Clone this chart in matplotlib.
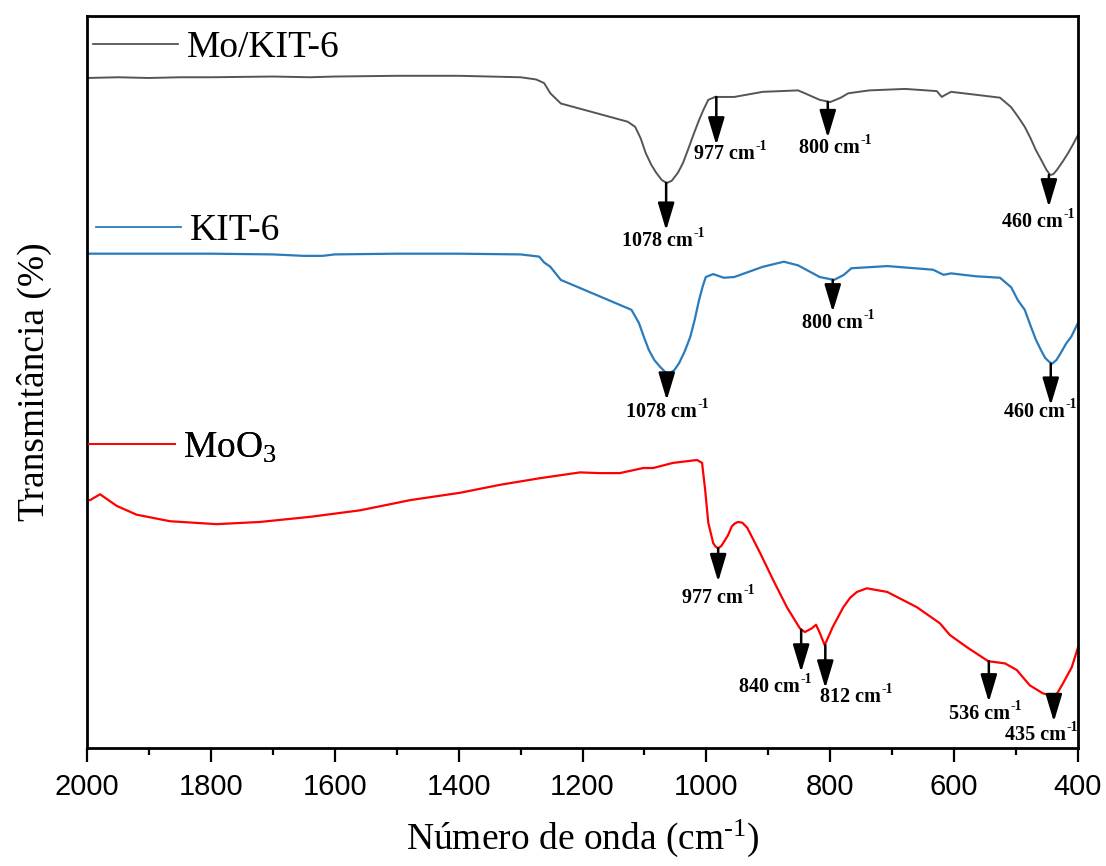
import matplotlib
matplotlib.use("Agg")
import matplotlib.pyplot as plt
from matplotlib.ticker import MultipleLocator

plt.rcParams['font.family'] = ['Liberation Serif', 'DejaVu Serif']
plt.rcParams['mathtext.fontset'] = 'custom'
plt.rcParams['mathtext.rm'] = 'Liberation Serif'
plt.rcParams['mathtext.it'] = 'Liberation Serif:italic'
plt.rcParams['mathtext.bf'] = 'Liberation Serif:bold'

# --- spectra (wavenumber, transmittance in arbitrary %) ---
mokit_wn = [2000, 1950, 1900, 1850, 1800, 1700, 1640, 1600, 1500, 1400, 1350, 1300, 1275,
            1262, 1252, 1235, 1196, 1127, 1115, 1106, 1098, 1089, 1081, 1072, 1064, 1056,
            1046, 1038, 1030, 1021, 1012, 1005, 997, 986, 955, 909, 852, 841, 817, 800,
            783, 771, 737, 679, 628, 620, 614, 605, 565, 526, 508, 497, 486, 477, 468,
            459, 451, 445, 440, 434, 425, 416, 408, 400]
mokit_t = [91.5, 91.6, 91.5, 91.6, 91.6, 91.7, 91.6, 91.7, 91.8, 91.8, 91.7, 91.6, 91.3,
           90.8, 89.4, 88.0, 87.1, 85.5, 84.8, 83.2, 81.2, 79.6, 78.5, 77.5, 77.1, 77.4,
           78.5, 79.8, 81.6, 83.7, 85.7, 87.1, 88.5, 88.9, 88.9, 89.6, 89.8, 89.4, 88.5, 88.2,
           88.8, 89.4, 89.8, 90.0, 89.7, 88.9, 89.2, 89.6, 89.2, 88.8, 87.5, 86.2, 84.8, 83.3, 81.6,
           80.2, 78.9, 78.2, 78.3, 78.9, 80.0, 81.2, 82.4, 83.7]

kit_wn = [2000, 1900, 1800, 1700, 1650, 1620, 1600, 1500, 1400, 1300, 1270, 1262,
          1252, 1235, 1196, 1121, 1109, 1101, 1093, 1084, 1075, 1067, 1060, 1052, 1044,
          1035, 1026, 1019, 1012, 1006, 1001, 989, 972, 955, 909, 875, 852, 817, 794,
          778, 766, 708, 634, 617, 605, 565, 526, 508, 497, 486, 477, 468, 460, 453,
          447, 442, 435, 427, 419, 411, 400]
kit_t = [67.4, 67.4, 67.4, 67.3, 67.1, 67.1, 67.3, 67.4, 67.4, 67.3, 67.0, 66.2,
         65.6, 63.8, 62.4, 59.7, 57.9, 56.0, 54.2, 52.8, 51.9, 51.2, 51.0, 51.4, 52.4,
         54.0, 56.0, 58.3, 61.0, 62.9, 64.2, 64.6, 64.1, 64.2, 65.6, 66.3, 65.8, 64.2, 63.8,
         64.5, 65.4, 65.7, 65.2, 64.5, 64.7, 64.3, 64.1, 62.8, 61.0, 59.7, 57.6, 55.6, 54.2, 53.1,
         52.6, 52.3, 52.8, 53.9, 55.1, 56.0, 57.9]

moo3_wn = [2000, 1995, 1979, 1952, 1920, 1866, 1791, 1721, 1640, 1559, 1478, 1398, 1333,
           1269, 1204, 1172, 1140, 1102, 1086, 1054, 1015, 1007, 1002, 997, 989, 985, 981,
           976, 970, 965, 959, 954, 949, 942, 934, 913, 892, 870, 849, 841, 830, 823, 817,
           809, 796, 779, 768, 757, 741, 708, 660, 623, 607, 579, 545, 518, 499, 478, 457,
           437, 424, 410, 400]
moo3_t = [33.6, 33.6, 34.4, 32.8, 31.6, 30.7, 30.3, 30.6, 31.3, 32.2, 33.6, 34.6, 35.7,
          36.6, 37.4, 37.3, 37.3, 38.0, 38.0, 38.7, 39.1, 38.7, 35.0, 30.5, 27.7, 27.2, 27.0,
          27.3, 28.1, 28.8, 30.0, 30.4, 30.6, 30.5, 29.8, 26.3, 22.6, 18.9, 16.0, 15.5, 16.0, 16.5, 15.4,
          13.7, 16.2, 18.9, 20.2, 21.0, 21.5, 21.0, 18.9, 16.7, 15.1, 13.4, 11.5, 11.2, 10.3, 8.2, 7.1,
          6.6, 8.5, 10.7, 13.4]

# peak markers: (arrow x, arrow start, arrow tip, label x, label y, text)
mokit_peaks = [(984, 88.9, 82.3, 962, 81.1, '977'),
               (804, 88.2, 83.3, 792, 81.9, '800'),
               (1065, 77.1, 70.6, 1070, 69.1, '1078'),
               (447, 78.2, 73.8, 465, 71.7, '460')]
kit_peaks = [(1064, 51.0, 47.3, 1064, 45.7, '1078'),
             (796, 63.8, 59.4, 788, 57.9, '800'),
             (444, 52.3, 46.6, 461, 45.7, '460')]
moo3_peaks = [(981, 27.0, 22.4, 981, 20.2, '977'),
              (847, 15.8, 10.0, 889, 8.0, '840'),
              (808, 13.7, 7.8, 758, 6.6, '812'),
              (544, 11.5, 5.9, 550, 4.3, '536'),
              (439, 6.6, 3.2, 460, 1.4, '435')]

fig = plt.figure(figsize=(11.06, 8.66), dpi=100)
ax = fig.add_axes([0.0787, 0.1363, 0.8960, 0.8452])

l1, = ax.plot(mokit_wn, mokit_t, color='#555555', lw=1.4)
l2, = ax.plot(kit_wn, kit_t, color='#2b7bba', lw=1.6)
l3, = ax.plot(moo3_wn, moo3_t, color='#ff0000', lw=1.6)

for peaks in (mokit_peaks, kit_peaks, moo3_peaks):
    for xa, y0, y1, xl, yl, txt in peaks:
        ax.annotate('', xy=(xa, y1), xytext=(xa, y0),
                    arrowprops=dict(arrowstyle='-|>,head_width=0.36,head_length=1.2',
                                    color='black', lw=1.8, shrinkA=0, shrinkB=0,
                                    mutation_scale=14))
        main = ax.annotate(txt + ' cm', xy=(xl, yl), xytext=(-4, 0),
                           textcoords='offset points', fontsize=14.5,
                           fontweight='bold', ha='center', va='center')
        # superscript "-1" hooked to the right edge of the main label
        ax.annotate('-1', xy=(1, 0.55), xycoords=main, xytext=(0.5, 0),
                    textcoords='offset points', fontsize=10, fontweight='bold',
                    ha='left', va='bottom')

# series names drawn as small legends next to each curve
for line, name, pos in [(l1, 'Mo/KIT-6', (0.006, 0.957)),
                        (l2, 'KIT-6', (0.009, 0.706)),
                        (l3, r'MoO$_3$', (0.002, 0.410))]:
    leg = ax.legend([line], [name], loc='center left', bbox_to_anchor=pos,
                    frameon=False, fontsize=27, handlelength=2.28, handletextpad=0.22,
                    borderpad=0, borderaxespad=0)
    leg.get_lines()[0].set_linewidth(1.3)
    ax.add_artist(leg)

ax.set_xlim(2000, 400)
ax.set_ylim(-0.4, 100)
ax.set_yticks([])
ax.xaxis.set_major_locator(MultipleLocator(200))
ax.xaxis.set_minor_locator(MultipleLocator(100))
ax.tick_params(axis='x', which='major', direction='out', length=10, width=1.6,
               labelsize=21, pad=8, labelfontfamily='Liberation Sans')
ax.tick_params(axis='x', which='minor', direction='out', length=5, width=1.6)
for s in ax.spines.values():
    s.set_linewidth(2)

ax.set_xlabel(r'Número de onda (cm$^{\text{-1}}$)', fontsize=27, labelpad=12)
ax.set_ylabel('Transmitância (%)', fontsize=27, labelpad=25)

fig.savefig('out.png', dpi=100)
